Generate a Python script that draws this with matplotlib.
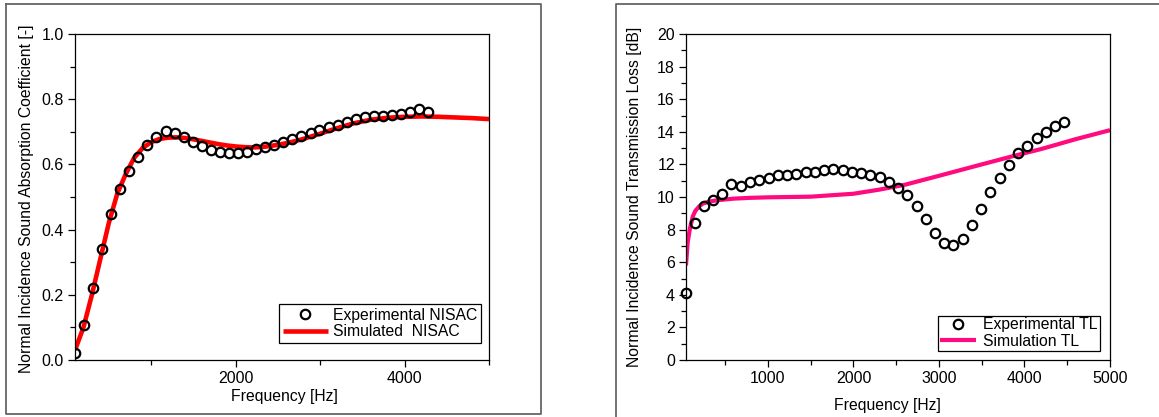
import matplotlib
matplotlib.use("Agg")
import matplotlib.pyplot as plt
from matplotlib.ticker import MultipleLocator, FixedLocator, FormatStrFormatter
from matplotlib.lines import Line2D

plt.rcParams['font.family'] = ['Liberation Sans', 'DejaVu Sans']

# ---------------- Data: left panel (NISAC) ----------------
nisac_exp_freq = [100, 209, 318, 422, 527, 632, 740, 845, 954, 1063, 1172, 1281, 1385,
                  1494, 1599, 1708, 1812, 1921, 2030, 2135, 2244, 2348, 2457, 2562,
                  2671, 2780, 2889, 2993, 3102, 3207, 3316, 3425, 3529, 3638, 3747,
                  3852, 3961, 4065, 4174, 4279]
nisac_exp_val = [0.023, 0.107, 0.221, 0.342, 0.449, 0.524, 0.581, 0.622, 0.658, 0.685,
                 0.702, 0.697, 0.683, 0.668, 0.655, 0.645, 0.637, 0.634, 0.634, 0.639,
                 0.646, 0.653, 0.659, 0.668, 0.677, 0.686, 0.695, 0.705, 0.714, 0.722,
                 0.731, 0.739, 0.745, 0.748, 0.750, 0.751, 0.754, 0.762, 0.770, 0.761]

nisac_sim_freq = [100, 200, 300, 400, 500, 600, 700, 800, 900, 1000, 1100, 1200, 1300,
                  1400, 1500, 1600, 1700, 1800, 1900, 2000, 2100, 2200, 2300, 2400,
                  2500, 2600, 2700, 2800, 2900, 3000, 3200, 3400, 3600, 3800, 4000,
                  4200, 4400, 4600, 4800, 5000]
nisac_sim_val = [0.03, 0.10, 0.20, 0.31, 0.42, 0.51, 0.57, 0.62, 0.65, 0.668, 0.678,
                 0.682, 0.683, 0.681, 0.677, 0.672, 0.667, 0.662, 0.658, 0.655, 0.653,
                 0.652, 0.653, 0.656, 0.660, 0.665, 0.671, 0.678, 0.686, 0.694, 0.711,
                 0.726, 0.737, 0.743, 0.746, 0.747, 0.746, 0.744, 0.742, 0.739]

# ---------------- Data: right panel (TL) ----------------
tl_exp_freq = [41, 145, 249, 356, 460, 568, 680, 788, 896, 1009, 1117, 1225, 1333,
               1441, 1549, 1657, 1765, 1873, 1981, 2089, 2197, 2305, 2413, 2521,
               2629, 2737, 2845, 2953, 3061, 3169, 3277, 3385, 3493, 3601, 3709,
               3817, 3925, 4033, 4141, 4249, 4357, 4465]
tl_exp_val = [4.09, 8.42, 9.47, 9.81, 10.16, 10.82, 10.70, 10.95, 11.07, 11.15, 11.38,
              11.34, 11.40, 11.54, 11.54, 11.63, 11.69, 11.67, 11.56, 11.46, 11.34,
              11.21, 10.95, 10.58, 10.10, 9.44, 8.62, 7.80, 7.18, 7.04, 7.43, 8.29,
              9.28, 10.31, 11.19, 11.95, 12.67, 13.15, 13.64, 13.99, 14.38, 14.59]

tl_sim_freq = [41, 60, 88, 120, 150, 200, 240, 300, 400, 600, 800, 1000, 1500, 2000,
               2300, 2600, 3000, 3500, 3860, 4200, 4600, 5000]
tl_sim_val = [5.8, 7.2, 8.1, 8.8, 9.15, 9.45, 9.6, 9.7, 9.8, 9.9, 9.95, 9.98, 10.02,
              10.2, 10.45, 10.75, 11.3, 12.0, 12.5, 12.95, 13.55, 14.1]

W, H = 1159, 417
fig = plt.figure(figsize=(W / 100, H / 100), dpi=100)

def fx(px):
    return px / W

def fy(py):
    return 1 - py / H

# panel frames
frame_col = '#666666'
fig.add_artist(Line2D([fx(6), fx(541), fx(541), fx(6), fx(6)],
                      [fy(4), fy(4), fy(414), fy(414), fy(4)],
                      color=frame_col, lw=1.3, transform=fig.transFigure))
fig.add_artist(Line2D([fx(1160), fx(616), fx(616)],
                      [fy(4), fy(4), fy(418)],
                      color=frame_col, lw=1.3, transform=fig.transFigure))

axL = fig.add_axes([fx(75), fy(360), (489 - 75) / W, (360 - 34) / H])
axR = fig.add_axes([fx(686), fy(360), (1110 - 686) / W, (360 - 34) / H])

fs = 11.5
lfs = 11.3

def style(ax):
    for s in ax.spines.values():
        s.set_linewidth(0.9)
        s.set_color('black')
    ax.tick_params(which='both', direction='out', top=False, right=False,
                   labelsize=fs, width=0.9, pad=3)
    ax.tick_params(which='major', length=5)
    ax.tick_params(which='minor', length=3.5)

# ---- left ----
axL.plot(nisac_sim_freq, nisac_sim_val, color='#ff0000', lw=3.3, zorder=2,
         label='Simulated  NISAC', solid_capstyle='butt')
axL.plot(nisac_exp_freq, nisac_exp_val, linestyle='none', marker='o', ms=6.8,
         mfc='none', mec='black', mew=1.6, zorder=3, label='Experimental NISAC')
axL.set_xlim(100, 5000)
axL.set_ylim(0, 1.0)
axL.xaxis.set_major_locator(FixedLocator([2000, 4000]))
axL.xaxis.set_minor_locator(FixedLocator([1000, 3000, 5000]))
axL.yaxis.set_major_locator(MultipleLocator(0.2))
axL.yaxis.set_minor_locator(MultipleLocator(0.1))
axL.yaxis.set_major_formatter(FormatStrFormatter('%.1f'))
style(axL)
axL.set_xlabel('Frequency [Hz]', fontsize=lfs)
axL.set_ylabel('Normal Incidence Sound Absorption Coefficient [-]', fontsize=lfs)
axL.xaxis.set_label_coords(0.506, -0.089)
axL.yaxis.set_label_coords(-0.099, 0.495)
h, l = axL.get_legend_handles_labels()
legL = axL.legend(h[::-1], l[::-1], loc='lower right', bbox_to_anchor=(0.9807, 0.052),
                  fontsize=lfs, frameon=True, fancybox=False, edgecolor='black',
                  framealpha=1, borderpad=0.25, handlelength=2.9, handletextpad=0.3,
                  labelspacing=0.1, numpoints=1, borderaxespad=0)
legL.get_frame().set_linewidth(0.9)

# ---- right ----
axR.plot(tl_sim_freq, tl_sim_val, color='#ff0a7f', lw=3.0, zorder=2,
         label='Simulation TL', solid_capstyle='butt')
axR.plot(tl_exp_freq, tl_exp_val, linestyle='none', marker='o', ms=6.8,
         mfc='none', mec='black', mew=1.6, zorder=3, label='Experimental TL',
         clip_on=False)
axR.set_xlim(41, 5000)
axR.set_ylim(0, 20)
axR.xaxis.set_major_locator(FixedLocator([1000, 2000, 3000, 4000, 5000]))
axR.xaxis.set_minor_locator(FixedLocator([500, 1500, 2500, 3500, 4500]))
axR.yaxis.set_major_locator(MultipleLocator(2))
axR.yaxis.set_minor_locator(MultipleLocator(1))
style(axR)
axR.set_xlabel('Frequency [Hz]', fontsize=lfs)
axR.set_ylabel('Normal Incidence Sound Transmission Loss [dB]', fontsize=lfs)
axR.xaxis.set_label_coords(0.475, -0.117)
axR.yaxis.set_label_coords(-0.104, 0.5)
h, l = axR.get_legend_handles_labels()
legR = axR.legend(h[::-1], l[::-1], loc='lower right', bbox_to_anchor=(0.976, 0.028),
                  fontsize=lfs, frameon=True, fancybox=False, edgecolor='black',
                  framealpha=1, borderpad=0.12, handlelength=2.3, handletextpad=0.45,
                  labelspacing=0.1, numpoints=1, borderaxespad=0)
legR.get_frame().set_linewidth(0.9)

fig.savefig('out.png', dpi=100)
